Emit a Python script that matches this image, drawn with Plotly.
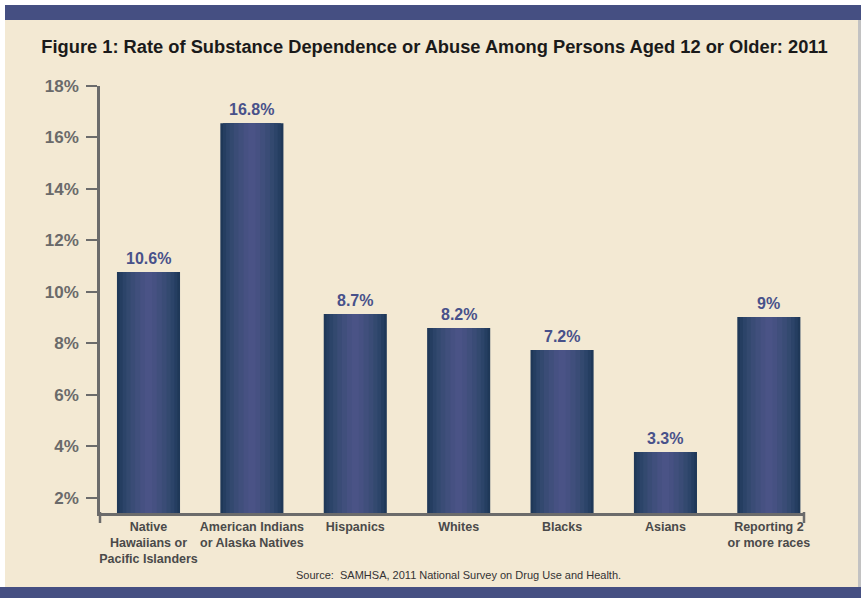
import plotly.graph_objects as go

categories = ["Native<br>Hawaiians or<br>Pacific Islanders", "American Indians<br>or Alaska Natives",
              "Hispanics", "Whites", "Blacks", "Asians", "Reporting 2<br>or more races"]
bar_heights = [10.77, 16.55, 9.14, 8.59, 7.74, 3.77, 9.02]
bar_labels = ["10.6%", "16.8%", "8.7%", "8.2%", "7.2%", "3.3%", "9%"]
y_ticks = [2, 4, 6, 8, 10, 12, 14, 16, 18]
y_tick_text = ["2%", "4%", "6%", "8%", "10%", "12%", "14%", "16%", "18%"]

FONT = "Liberation Sans, Arial, sans-serif"
CREAM = "#F3E9D3"
BAND = "#454F82"
W, H = 861, 598
L, R, T, B = 100, 57, 86, 85
PW, PH = W - L - R, H - T - B

x_idx = list(range(len(categories)))

# gradient layers (outer dark -> inner light)
layers = [
    (0.61, "#1F3858"),
    (0.56, "#253E61"),
    (0.50, "#2C4469"),
    (0.43, "#33496F"),
    (0.35, "#3A4C76"),
    (0.26, "#404F7C"),
    (0.16, "#465182"),
    (0.07, "#4A5386"),
]

fig = go.Figure()
for w, c in layers:
    fig.add_trace(go.Bar(
        x=x_idx, y=bar_heights, width=[w] * len(x_idx),
        marker=dict(color=c, line=dict(width=0)),
        hoverinfo="skip", showlegend=False,
    ))

for i, (h, t) in enumerate(zip(bar_heights, bar_labels)):
    fig.add_annotation(x=i, y=h, text=t, showarrow=False,
                       yanchor="bottom", yshift=3,
                       font=dict(family=FONT, size=16, color="#48518A", weight="bold"))

fig.update_layout(
    width=W, height=H,
    paper_bgcolor=CREAM, plot_bgcolor=CREAM,
    barmode="overlay",
    margin=dict(l=L, r=R, t=T, b=B, autoexpand=False),
    title=dict(text="Figure 1: Rate of Substance Dependence or Abuse Among Persons Aged 12 or Older: 2011",
               x=434.5 / W, xanchor="center", xref="container", y=1 - 47 / H, yanchor="middle",
               yref="container",
               font=dict(family=FONT, size=18.3, color="#1A1A1A", weight="bold")),
    showlegend=False,
)

fig.update_xaxes(
    range=[-0.469, 6.34], tickmode="array", tickvals=x_idx,
    ticktext=categories, tickangle=0, automargin=False,
    showline=True, linecolor="#6B6B6B", linewidth=2.5, showgrid=False, zeroline=False,
    ticks="", tickfont=dict(family=FONT, size=12.5, color="#4A4A4A", weight="bold"),
)
fig.update_yaxes(
    range=[1.4, 18], tickmode="array", tickvals=y_ticks,
    ticktext=y_tick_text, automargin=False,
    showline=True, linecolor="#6B6B6B", linewidth=2.5, showgrid=False, zeroline=False,
    ticks="outside", ticklen=11, tickwidth=1.5, tickcolor="#6B6B6B",
    tickfont=dict(family=FONT, size=17, color="#6A6A6A", weight="bold"), ticklabelstandoff=4,
)


def px_rect(x0, y0, x1, y1, color):
    fig.add_shape(type="rect", xref="paper", yref="paper",
                  x0=(x0 - L) / PW, x1=(x1 - L) / PW,
                  y0=(H - B - y1) / PH, y1=(H - B - y0) / PH,
                  line=dict(width=0), fillcolor=color, layer="above")


def px_line(x0, y0, x1, y1, color, w):
    fig.add_shape(type="line", xref="paper", yref="paper",
                  x0=(x0 - L) / PW, x1=(x1 - L) / PW,
                  y0=(H - B - y0) / PH, y1=(H - B - y1) / PH,
                  line=dict(width=w, color=color))


px_rect(0, 0, W, 5, "#FFFFFF")
px_rect(0, 0, 5, H, "#FFFFFF")
px_rect(5, 5, W, 20, BAND)
px_rect(0, 587, W, H, BAND)
px_rect(858, 20, W, 587, "#C2C2C2")
px_line(100, 512, 100, 523, "#6B6B6B", 2.5)
px_line(804, 512, 804, 523, "#6B6B6B", 2.5)

fig.add_annotation(xref="paper", yref="paper", x=(458 - L) / PW, y=(H - B - 575) / PH,
                   text="Source:  SAMHSA, 2011 National Survey on Drug Use and Health.",
                   showarrow=False, xanchor="center", yanchor="middle",
                   font=dict(family=FONT, size=11, color="#333333"))

fig.write_html("out.html", config={"displayModeBar": False},
               post_script="document.body.style.margin='0px';document.body.style.overflow='hidden';")
